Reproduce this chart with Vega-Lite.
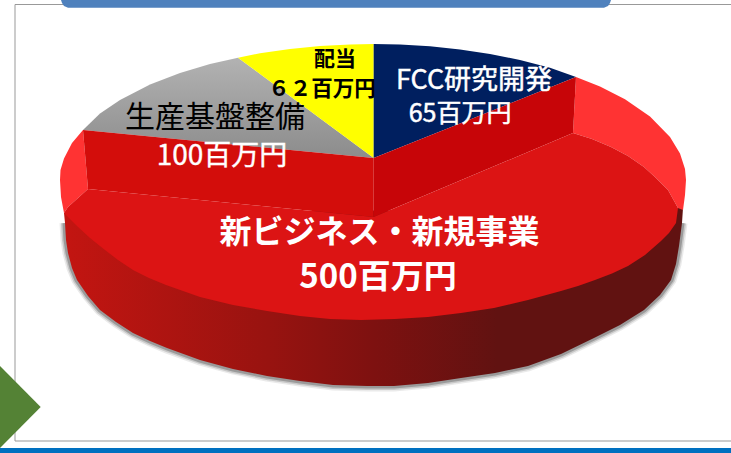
{
"$schema":"https://vega.github.io/schema/vega-lite/v6.json",
"width":731,"height":453,"padding":0,"autosize":{"type":"none"},
"background":"white","view":{"stroke":null},
"datasets":{
"shapes":[
{"part":"bar","x":0,"y":448},{"part":"bar","x":731,"y":448},{"part":"bar","x":731,"y":453},{"part":"bar","x":0,"y":453},
{"part":"header","x":61,"y":0},{"part":"header","x":62,"y":3},{"part":"header","x":64,"y":6},{"part":"header","x":68,"y":7.7},{"part":"header","x":604,"y":7.7},{"part":"header","x":608,"y":6},{"part":"header","x":610,"y":3},{"part":"header","x":611,"y":0},
{"part":"diamond","x":0,"y":366},{"part":"diamond","x":40.7,"y":407},{"part":"diamond","x":0,"y":448},
{"part":"配当","x":373.7,"y":158},{"part":"配当","x":373.7,"y":44},{"part":"配当","x":350,"y":44.4},{"part":"配当","x":320,"y":46},{"part":"配当","x":290,"y":48.9},{"part":"配当","x":260,"y":53.2},{"part":"配当","x":238,"y":57.7},
{"part":"FCC研究開発","x":373.7,"y":158},{"part":"FCC研究開発","x":373.7,"y":44},{"part":"FCC研究開発","x":400,"y":44.5},{"part":"FCC研究開発","x":430,"y":46.3},{"part":"FCC研究開発","x":460,"y":49.4},{"part":"FCC研究開発","x":490,"y":53.9},{"part":"FCC研究開発","x":520,"y":59.9},{"part":"FCC研究開発","x":550,"y":67.8},{"part":"FCC研究開発","x":576,"y":77},
{"part":"rimRight","x":576,"y":77},{"part":"rimRight","x":600,"y":86.4},{"part":"rimRight","x":625,"y":99.3},{"part":"rimRight","x":650,"y":116.6},{"part":"rimRight","x":670,"y":137},{"part":"rimRight","x":680,"y":153.4},{"part":"rimRight","x":685,"y":169},{"part":"rimRight","x":686,"y":180},{"part":"rimRight","x":685,"y":195},{"part":"rimRight","x":683,"y":210},{"part":"rimRight","x":678,"y":208},{"part":"rimRight","x":668,"y":190},{"part":"rimRight","x":656,"y":178},{"part":"rimRight","x":644,"y":167},{"part":"rimRight","x":628,"y":156},{"part":"rimRight","x":611,"y":147},{"part":"rimRight","x":592,"y":139},{"part":"rimRight","x":573,"y":133},
{"part":"rimLeft","x":83,"y":130},{"part":"rimLeft","x":72,"y":143},{"part":"rimLeft","x":64,"y":158.5},{"part":"rimLeft","x":60.5,"y":170},{"part":"rimLeft","x":60,"y":180},{"part":"rimLeft","x":61,"y":197},{"part":"rimLeft","x":64,"y":213},{"part":"rimLeft","x":68,"y":207},{"part":"rimLeft","x":88,"y":189},
{"part":"wallLeft","x":83,"y":130},{"part":"wallLeft","x":373.7,"y":158},{"part":"wallLeft","x":373.7,"y":217},{"part":"wallLeft","x":88,"y":189},
{"part":"wallRight","x":373.7,"y":158},{"part":"wallRight","x":576,"y":77},{"part":"wallRight","x":573,"y":133},{"part":"wallRight","x":373.7,"y":217},
{"part":"新ビジネス・新規事業","x":88,"y":189},{"part":"新ビジネス・新規事業","x":373.7,"y":217},{"part":"新ビジネス・新規事業","x":573,"y":133},{"part":"新ビジネス・新規事業","x":592,"y":139},{"part":"新ビジネス・新規事業","x":611,"y":147},{"part":"新ビジネス・新規事業","x":628,"y":156},{"part":"新ビジネス・新規事業","x":644,"y":167},{"part":"新ビジネス・新規事業","x":656,"y":178},{"part":"新ビジネス・新規事業","x":668,"y":190},{"part":"新ビジネス・新規事業","x":678,"y":208},{"part":"新ビジネス・新規事業","x":676,"y":223},{"part":"新ビジネス・新規事業","x":669,"y":233},{"part":"新ビジネス・新規事業","x":661,"y":241},{"part":"新ビジネス・新規事業","x":645,"y":255},{"part":"新ビジネス・新規事業","x":628,"y":266},{"part":"新ビジネス・新規事業","x":612,"y":273.5},{"part":"新ビジネス・新規事業","x":595,"y":280},{"part":"新ビジネス・新規事業","x":578,"y":286},{"part":"新ビジネス・新規事業","x":561,"y":291},{"part":"新ビジネス・新規事業","x":528,"y":300},{"part":"新ビジネス・新規事業","x":494,"y":308},{"part":"新ビジネス・新規事業","x":461,"y":313},{"part":"新ビジネス・新規事業","x":428,"y":317},{"part":"新ビジネス・新規事業","x":395,"y":319},{"part":"新ビジネス・新規事業","x":361,"y":320},{"part":"新ビジネス・新規事業","x":330,"y":319},{"part":"新ビジネス・新規事業","x":300,"y":316},{"part":"新ビジネス・新規事業","x":267,"y":311},{"part":"新ビジネス・新規事業","x":233,"y":305},{"part":"新ビジネス・新規事業","x":200,"y":297},{"part":"新ビジネス・新規事業","x":183,"y":291},{"part":"新ビジネス・新規事業","x":166,"y":285},{"part":"新ビジネス・新規事業","x":149,"y":278},{"part":"新ビジネス・新規事業","x":133,"y":270},{"part":"新ビジネス・新規事業","x":118,"y":260},{"part":"新ビジネス・新規事業","x":105,"y":250},{"part":"新ビジネス・新規事業","x":90,"y":238},{"part":"新ビジネス・新規事業","x":77,"y":226},{"part":"新ビジネス・新規事業","x":70,"y":219},{"part":"新ビジネス・新規事業","x":64,"y":213},{"part":"新ビジネス・新規事業","x":68,"y":207}
],
"grayTop":[
{"part":"生産基盤整備","x":373.7,"y":158},{"part":"生産基盤整備","x":238,"y":57.7},{"part":"生産基盤整備","x":210,"y":63.9},{"part":"生産基盤整備","x":180,"y":72.9},{"part":"生産基盤整備","x":150,"y":84.6},{"part":"生産基盤整備","x":120,"y":99.9},{"part":"生産基盤整備","x":100,"y":113.5},{"part":"生産基盤整備","x":83,"y":130}
],
"edge":[
{"x":64,"y":213},{"x":65,"y":223},{"x":66,"y":240},{"x":68,"y":253},{"x":72,"y":268},{"x":77,"y":280},{"x":88,"y":296},{"x":100,"y":310},{"x":116,"y":322},{"x":133,"y":333},{"x":150,"y":341},{"x":167,"y":348},{"x":200,"y":360},{"x":233,"y":369},{"x":267,"y":376},{"x":300,"y":381},{"x":333,"y":385},{"x":367,"y":386},{"x":394,"y":386},{"x":428,"y":383},{"x":461,"y":378},{"x":495,"y":373},{"x":528,"y":366},{"x":561,"y":354},{"x":594,"y":338},{"x":620,"y":325},{"x":644,"y":310},{"x":660,"y":295},{"x":671,"y":280},{"x":676,"y":264},{"x":679,"y":246},{"x":682,"y":223},{"x":683,"y":208}
],
"frame":[{"x":731,"y":4.5},{"x":15,"y":4.5},{"x":15,"y":441},{"x":731,"y":441}],
"labels":[
{"slice":"配当","value":62,"text":"配当","x":335,"y":60},
{"slice":"配当","value":62,"text":"６２百万円","x":322,"y":90},
{"slice":"生産基盤整備","value":100,"text":"生産基盤整備","x":215,"y":118},
{"slice":"生産基盤整備","value":100,"text":"100百万円","x":222,"y":157},
{"slice":"FCC研究開発","value":65,"text":"FCC研究開発","x":474,"y":81},
{"slice":"FCC研究開発","value":65,"text":"65百万円","x":460,"y":114},
{"slice":"新ビジネス・新規事業","value":500,"text":"新ビジネス・新規事業","x":379.5,"y":233},
{"slice":"新ビジネス・新規事業","value":500,"text":"500百万円","x":378,"y":278}
]},
"encoding":{
"x":{"field":"x","type":"quantitative","scale":{"domain":[0,731],"nice":false,"zero":false},"axis":null},
"y":{"field":"y","type":"quantitative","scale":{"domain":[453,0],"nice":false,"zero":false},"axis":null}
},
"layer":[
{"data":{"name":"frame"},"mark":{"type":"line","order":null,"stroke":"#999999","strokeWidth":1}},
{"data":{"name":"edge"},"transform":[{"filter":"datum.y>=215"}],"mark":{"type":"line","order":null,"stroke":"#333333","strokeWidth":11,"opacity":0.1}},
{"data":{"name":"edge"},"transform":[{"filter":"datum.y>=215"}],"mark":{"type":"line","order":null,"stroke":"#333333","strokeWidth":8,"opacity":0.18}},
{"data":{"name":"edge"},"transform":[{"filter":"datum.y>=215"}],"mark":{"type":"line","order":null,"stroke":"#333333","strokeWidth":5,"opacity":0.3}},
{"data":{"name":"edge"},"mark":{"type":"line","order":null,"filled":true,"strokeWidth":0,
 "fill":{"gradient":"linear","x1":0,"x2":1,"y1":0,"y2":0,"stops":[{"offset":0,"color":"#c31511"},{"offset":0.33,"color":"#981310"},{"offset":0.5,"color":"#7e1110"},{"offset":0.7,"color":"#611211"},{"offset":1,"color":"#611211"}]}}},
{"data":{"name":"grayTop"},"mark":{"type":"line","order":null,"filled":true,"strokeWidth":0,
 "fill":{"gradient":"linear","x1":0,"x2":0,"y1":0,"y2":1,"stops":[{"offset":0,"color":"#b2b2b2"},{"offset":1,"color":"#8c8c8c"}]}}},
{"data":{"name":"shapes"},"mark":{"type":"line","order":null,"filled":true,"strokeWidth":0},
 "encoding":{"detail":{"field":"part"},"color":{"field":"part","type":"nominal","legend":null,"scale":{
  "domain":["bar","header","diamond","配当","FCC研究開発","rimRight","rimLeft","wallLeft","wallRight","新ビジネス・新規事業"],
  "range":["#0070c0","#4f81bd","#548235","#ffff00","#001f5f","#ff3333","#ff3333","#d30d0b","#c70508","#dc1414"]}}}},
{"data":{"name":"labels"},"transform":[{"filter":"datum.text==='配当'"}],
 "mark":{"type":"text","font":"Noto Sans CJK JP","fontSize":21,"fontWeight":"bold","color":"#000000"},"encoding":{"text":{"field":"text"}}},
{"data":{"name":"labels"},"transform":[{"filter":"datum.text==='６２百万円'"}],
 "mark":{"type":"text","font":"Noto Sans CJK JP","fontSize":21.5,"fontWeight":"bold","color":"#000000"},"encoding":{"text":{"field":"text"}}},
{"data":{"name":"labels"},"transform":[{"filter":"datum.text==='生産基盤整備'"}],
 "mark":{"type":"text","font":"Noto Sans CJK JP","fontSize":30,"color":"#000000"},"encoding":{"text":{"field":"text"}}},
{"data":{"name":"labels"},"transform":[{"filter":"datum.text==='100百万円'"}],
 "mark":{"type":"text","font":"Noto Sans CJK JP","fontSize":28,"color":"#ffffff","stroke":"#ffffff","strokeWidth":0.4},"encoding":{"text":{"field":"text"}}},
{"data":{"name":"labels"},"transform":[{"filter":"datum.text==='FCC研究開発'"}],
 "mark":{"type":"text","font":"Noto Sans CJK JP","fontSize":27,"color":"#ffffff","stroke":"#ffffff","strokeWidth":0.5},"encoding":{"text":{"field":"text"}}},
{"data":{"name":"labels"},"transform":[{"filter":"datum.text==='65百万円'"}],
 "mark":{"type":"text","font":"Noto Sans CJK JP","fontSize":25,"color":"#ffffff","stroke":"#ffffff","strokeWidth":0.5},"encoding":{"text":{"field":"text"}}},
{"data":{"name":"labels"},"transform":[{"filter":"datum.text==='新ビジネス・新規事業'"}],
 "mark":{"type":"text","font":"Noto Sans CJK JP","fontSize":32,"fontWeight":"bold","color":"#ffffff"},"encoding":{"text":{"field":"text"}}},
{"data":{"name":"labels"},"transform":[{"filter":"datum.text==='500百万円'"}],
 "mark":{"type":"text","font":"Noto Sans CJK JP","fontSize":33,"fontWeight":"bold","color":"#ffffff"},"encoding":{"text":{"field":"text"}}}
]
}
